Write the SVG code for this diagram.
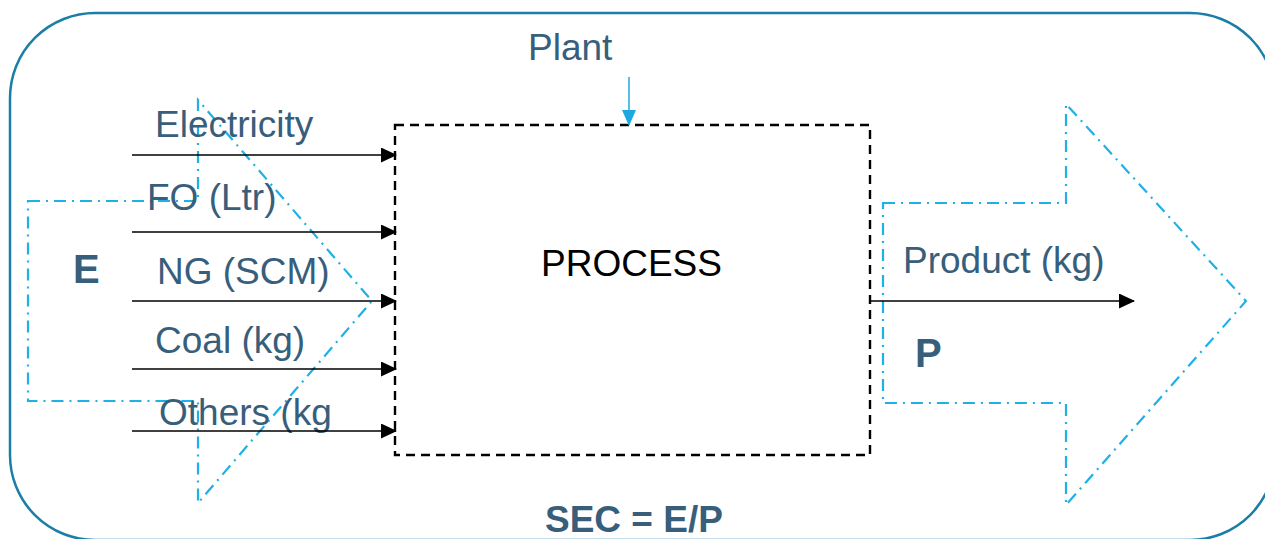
<svg xmlns="http://www.w3.org/2000/svg" width="1265" height="539" viewBox="0 0 1265 539">
<defs>
<style>
.lbl{font-family:"Liberation Sans",Arial,sans-serif;font-size:37px;fill:#375e7b}
.big{font-family:"Liberation Sans",Arial,sans-serif;font-size:40px;font-weight:bold;fill:#375e7b}
.flow{stroke:#000;stroke-width:1.5;fill:none;marker-end:url(#ah)}
.dd{fill:none;stroke:#1fb0e6;stroke-width:2.2;stroke-dasharray:12 6 2 6}
</style>
<marker id="ah" markerWidth="16" markerHeight="15" refX="15" refY="7.5" orient="auto" markerUnits="userSpaceOnUse">
<path d="M0,0 L16,7.5 L0,15 Z" fill="#000"/>
</marker>
<marker id="ahb" markerWidth="16" markerHeight="14" refX="15" refY="7" orient="auto" markerUnits="userSpaceOnUse">
<path d="M0,0 L16,7 L0,14 Z" fill="#1ea8e0"/>
</marker>
</defs>
<rect id="plant-boundary" x="10" y="13" width="1265" height="527" rx="85" ry="85" fill="none" stroke="#1a7ea6" stroke-width="2.5"/>
<g id="energy-arrow">
<polygon class="dd" points="28,201 198,201 198,100 372,301 198,503 198,401 28,401"/>
<text class="big" x="73" y="283">E</text>
</g>
<g id="product-arrow">
<polygon class="dd" points="883,203 1066,203 1066,104 1246,301 1066,505 1066,403 883,403"/>
<text class="big" x="915" y="367">P</text>
</g>
<g id="process">
<rect x="395" y="125" width="475" height="330" fill="none" stroke="#000" stroke-width="2.4" stroke-dasharray="9 6"/>
<text x="541" y="276" style="font-family:'Liberation Sans',Arial,sans-serif;font-size:37px;fill:#000">PROCESS</text>
</g>
<g id="plant-label">
<text class="lbl" x="528" y="60">Plant</text>
</g>
<g id="labels">
<text class="lbl" x="155" y="137">Electricity</text>
<text class="lbl" x="147" y="210">FO (Ltr)</text>
<text class="lbl" x="157" y="284">NG (SCM)</text>
<text class="lbl" x="155" y="353">Coal (kg)</text>
<text class="lbl" x="159" y="425">Others (kg</text>
<text class="lbl" x="903" y="273">Product (kg)</text>
</g>
<g id="formula">
<text class="lbl" x="545" y="532" style="font-weight:bold">SEC = E/P</text>
</g>
<g id="connectors">
<line class="flow" x1="132" y1="155" x2="396" y2="155"/>
<line class="flow" x1="132" y1="232" x2="396" y2="232"/>
<line class="flow" x1="132" y1="301" x2="396" y2="301"/>
<line class="flow" x1="132" y1="369" x2="396" y2="369"/>
<line class="flow" x1="132" y1="431" x2="396" y2="431"/>
<line class="flow" x1="870" y1="301" x2="1134" y2="301"/>
<line x1="629" y1="77" x2="629" y2="125" stroke="#1ea8e0" stroke-width="1.5" marker-end="url(#ahb)"/>
</g>
</svg>
